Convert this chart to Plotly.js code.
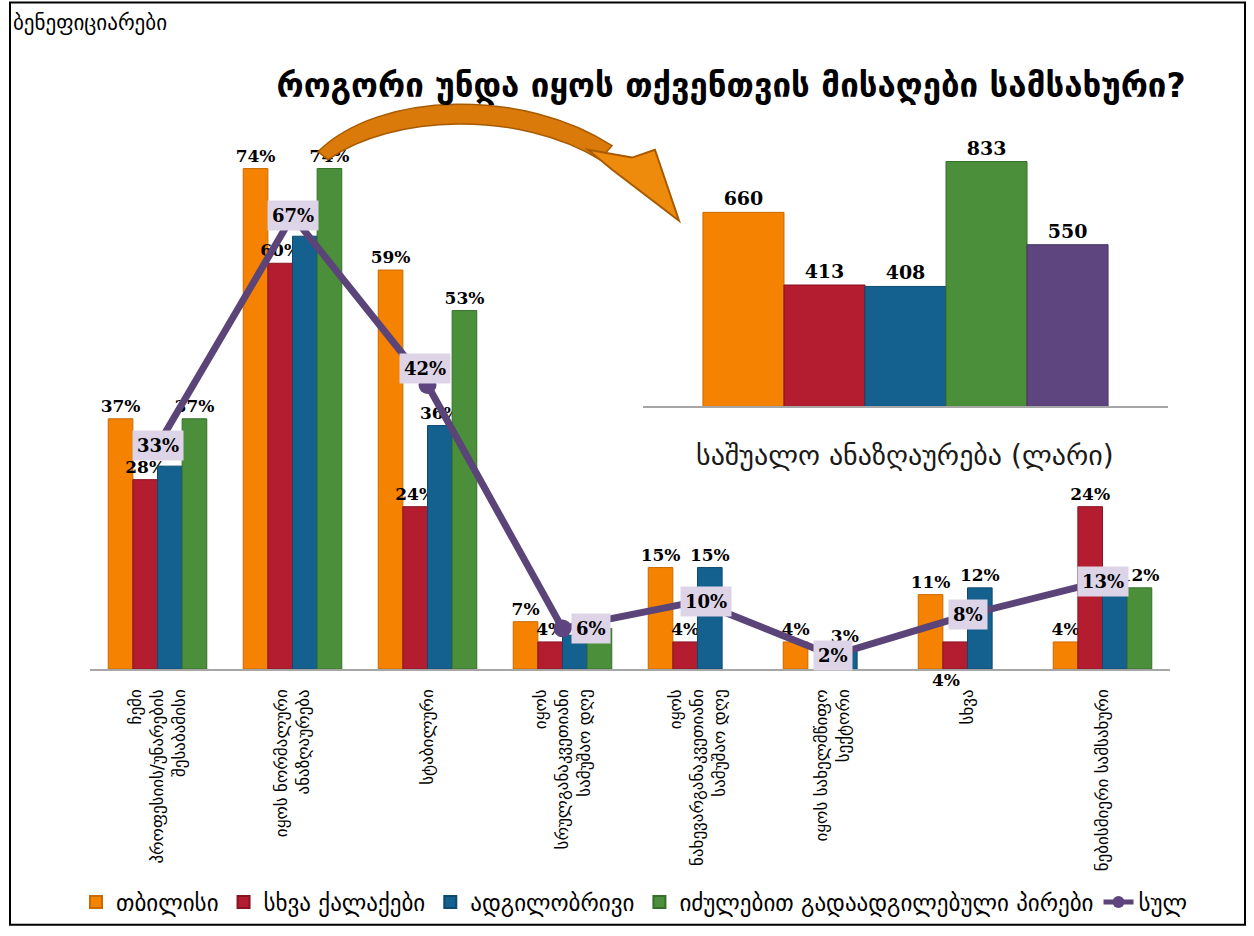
<!DOCTYPE html>
<html>
<head>
<meta charset="utf-8">
<script src="https://cdn.plot.ly/plotly-3.0.1.min.js"></script>
<style>html,body{margin:0;padding:0;background:#fff}#chart{width:1254px;height:936px}</style>
</head>
<body>
<div id="chart"></div>
<script>
// ---------- data ----------
const categories = [
  'ჩემი<br>პროფესიის/უნარების<br>შესაბამისი',
  'იყოს ნორმალური<br>ანაზღაურება',
  'სტაბილური',
  'იყოს<br>სრულგანაკვეთიანი<br>სამუშაო დღე',
  'იყოს<br>ნახევარგანაკვეთიანი<br>სამუშაო დღე',
  'იყოს სახელმწიფო<br>სექტორი',
  'სხვა',
  'ნებისმიერი სამსახური'
];
const seriesNames = ['თბილისი', 'სხვა ქალაქები', 'ადგილობრივი', 'იძულებით გადაადგილებული პირები', 'სულ'];
const tbilisi     = [37, 74, 59, 7, 15, 4, 11, 4];
const otherCities = [28, 60, 24, 4, 4, null, 4, 24];
const local       = [30, 64, 36, 5, 15, 3, 12, 13];
const idp         = [37, 74, 53, 6, null, null, null, 12];
const total       = [33, 67, 42, 6, 10, 2, 8, 13];
const salary      = [660, 413, 408, 833, 550];

const titleText = 'როგორი უნდა იყოს თქვენთვის მისაღები სამსახური?';
const cornerText = 'ბენეფიციარები';
const insetTitle = 'საშუალო ანაზღაურება (ლარი)';

// ---------- styles ----------
const colors = ['#F58200', '#B41C30', '#14608F', '#4B8F3B', '#5E4580'];
const edge = ['#C86A00', '#861423', '#0E4A70', '#35702A', '#47335F'];
const totalLabelXShift = [0, 0, -3, 28, 8, 0, 0, 0];
const totalLabelYShift = [0, 0, 16, 0, 0, 0, 0, 0];
// bar labels hidden behind the total boxes in the reference: [series index, category index]
const hiddenLabels = [[2, 3], [3, 3], [2, 7]];
// bar labels drawn below the axis in the reference: [series index, category index]
const belowLabels = [[1, 6]];
const labelFont = {family: 'DejaVu Serif', size: 17, color: '#000', weight: 'bold'};
const geoFont = 'DejaVu Sans';

const pct = v => (v == null ? '' : v + '%');
const barSeries = [tbilisi, otherCities, local, idp];
const inList = (list, s, c) => list.some(h => h[0] === s && h[1] === c);

const traces = barSeries.map((vals, i) => ({
  type: 'bar', name: seriesNames[i], x: categories, y: vals,
  xaxis: 'x', yaxis: 'y',
  marker: {color: colors[i], line: {color: edge[i], width: 1}},
  text: vals.map((v, c) => (inList(hiddenLabels, i, c) || inList(belowLabels, i, c) ? '' : pct(v))),
  textposition: 'outside', cliponaxis: false, constraintext: 'none',
  textfont: labelFont, hoverinfo: 'skip'
}));

traces.push({
  type: 'scatter', mode: 'lines+markers', name: seriesNames[4],
  x: categories, y: total, xaxis: 'x', yaxis: 'y',
  line: {color: '#5B4478', width: 7},
  marker: {color: '#5E4580', size: 18},
  hoverinfo: 'skip', cliponaxis: false
});

traces.push({
  type: 'bar', name: 'inset', showlegend: false,
  x: seriesNames, y: salary, xaxis: 'x2', yaxis: 'y2', width: 1,
  marker: {color: colors, line: {color: edge, width: 1}},
  text: salary.map(String), textposition: 'outside', cliponaxis: false, constraintext: 'none',
  textfont: {family: 'DejaVu Serif', size: 19, color: '#000', weight: 'bold'},
  hoverinfo: 'skip'
});

// pixel -> paper helpers (plot area x: 90..1170, y: 128..676)
const PX = x => (x - 90) / 1080;
const PY = y => (676 - y) / 548;
const pt = (x, y) => PX(x).toFixed(4) + ',' + PY(y).toFixed(4);

const shaftPath = 'M' + pt(318, 152) + ' C' + pt(380, 90) + ' ' + pt(525, 88) + ' ' + pt(612, 146) +
  ' L' + pt(600, 160) + ' C' + pt(520, 110) + ' ' + pt(392, 114) + ' ' + pt(328, 160) + ' Z';
const headPath = 'M' + pt(588, 150) + ' L' + pt(632, 158) + ' L' + pt(655, 150) + ' L' + pt(679, 222) +
  ' L' + pt(612, 170) + ' Z';

const annotations = total.map((v, i) => ({
  x: categories[i], y: v, xref: 'x', yref: 'y', text: pct(v), showarrow: false,
  bgcolor: '#DDD4E8', borderpad: 4, xshift: totalLabelXShift[i], yshift: totalLabelYShift[i],
  font: {family: 'DejaVu Serif', size: 18, color: '#000', weight: 'bold'}
}));
// labels placed under the axis, to the left of the category label
belowLabels.forEach(([s, c]) => {
  annotations.push({
    x: categories[c], y: 0, xref: 'x', yref: 'y', yanchor: 'top', showarrow: false,
    text: pct(barSeries[s][c]), xshift: -22, yshift: 1, font: labelFont
  });
});
annotations.push({
  xref: 'paper', yref: 'paper', x: PX(11), y: PY(22), xanchor: 'left', yanchor: 'middle',
  text: cornerText, showarrow: false, font: {family: geoFont, size: 21, color: '#000'}
});
annotations.push({
  xref: 'paper', yref: 'paper', x: PX(905), y: PY(460), xanchor: 'center', yanchor: 'middle',
  text: insetTitle, showarrow: false, font: {family: geoFont, size: 28, color: '#1a1a1a'}
});

const layout = {
  width: 1254, height: 936,
  margin: {l: 90, r: 84, t: 128, b: 260},
  paper_bgcolor: '#fff', plot_bgcolor: 'rgba(0,0,0,0)',
  title: {text: titleText, xref: 'container', yref: 'container', x: 0.583, y: 1 - 85 / 936,
          xanchor: 'center', yanchor: 'middle',
          font: {family: geoFont, size: 33, color: '#000', weight: 'bold'}},
  barmode: 'group', bargap: 0.27, bargroupgap: 0,
  showlegend: true,
  legend: {orientation: 'h', x: PX(76), y: PY(912), xanchor: 'left', yanchor: 'middle',
           font: {family: geoFont, size: 23, color: '#000'}, traceorder: 'normal',
           itemsizing: 'constant', tracegroupgap: 0, bgcolor: 'rgba(0,0,0,0)'},
  xaxis: {type: 'category', domain: [0, 1], tickangle: -90, showline: true, linecolor: '#A6A6A6',
          linewidth: 1.5, ticks: '', showgrid: false, zeroline: false, automargin: false,
          ticklabelstandoff: 12,
          tickfont: {family: geoFont, size: 17, color: '#000'}},
  yaxis: {range: [0, 80], visible: false, showgrid: false, zeroline: false},
  xaxis2: {type: 'category', anchor: 'y2', domain: [PX(643), PX(1168)], range: [-1.24, 5.24],
           showticklabels: false, showline: true, linecolor: '#A6A6A6', linewidth: 1.5,
           ticks: '', showgrid: false, zeroline: false},
  yaxis2: {anchor: 'x2', domain: [PY(410), PY(142)], range: [0, 900], visible: false,
           showgrid: false, zeroline: false},
  annotations: annotations,
  shapes: [
    {type: 'rect', xref: 'paper', yref: 'paper', x0: PX(10), x1: PX(1245), y0: PY(935), y1: PY(1),
     line: {color: '#000', width: 2}, fillcolor: 'rgba(0,0,0,0)', layer: 'below'},
    {type: 'path', xref: 'paper', yref: 'paper', path: shaftPath, fillcolor: '#D97A0A',
     line: {color: '#A85A00', width: 1.5}, layer: 'above'},
    {type: 'path', xref: 'paper', yref: 'paper', path: headPath, fillcolor: '#EE8A0C',
     line: {color: '#A85A00', width: 2}, layer: 'above'}
  ]
};

Plotly.newPlot('chart', traces, layout, {displayModeBar: false, staticPlot: true});
</script>
</body>
</html>
